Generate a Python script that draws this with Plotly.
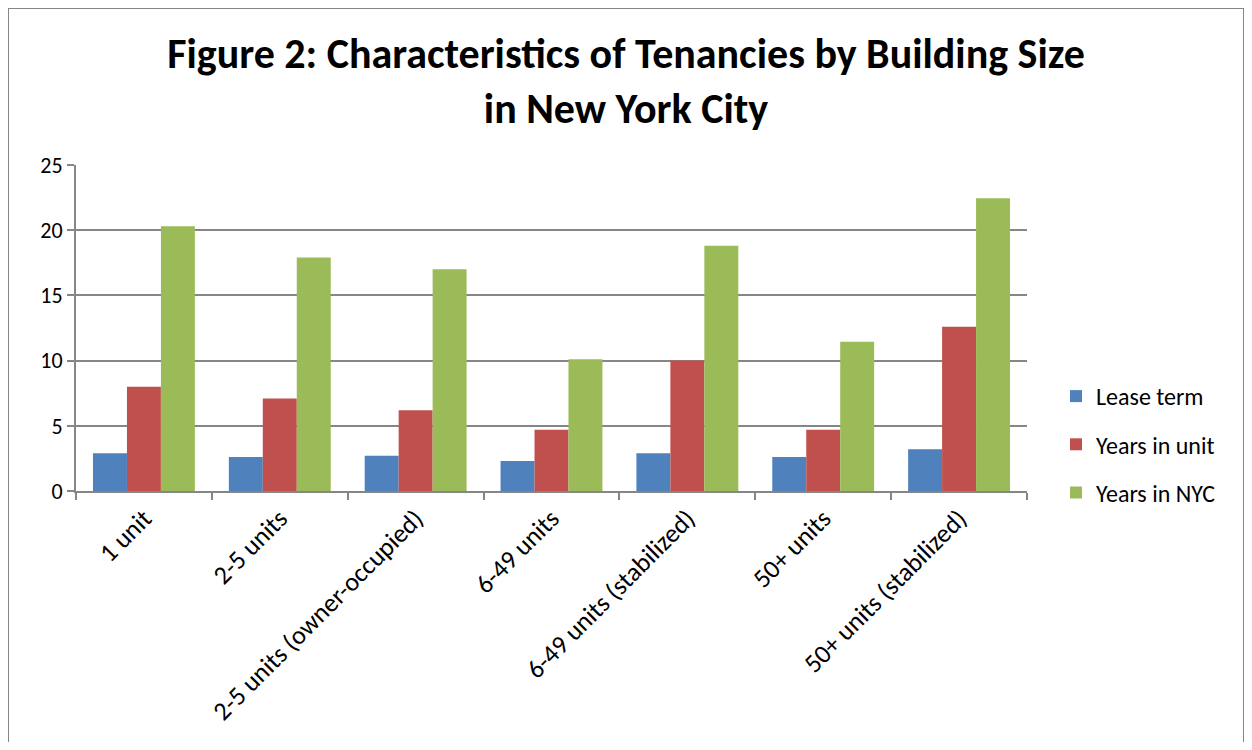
import plotly.graph_objects as go

categories = ["1 unit", "2-5 units", "2-5 units (owner-occupied)", "6-49 units",
              "6-49 units (stabilized)", "50+ units", "50+ units (stabilized)"]
lease_term = [2.9, 2.6, 2.7, 2.3, 2.9, 2.6, 3.2]
years_in_unit = [8.0, 7.1, 6.2, 4.7, 10.0, 4.7, 12.6]
years_in_nyc = [20.3, 17.9, 17.0, 10.1, 18.8, 11.45, 22.45]

series = [("Lease term", lease_term, "#4F81BD"),
          ("Years in unit", years_in_unit, "#C0504D"),
          ("Years in NYC", years_in_nyc, "#9BBB59")]

FONT = "Carlito, Lato, 'Open Sans', sans-serif"

fig = go.Figure()
for i, (name, vals, col) in enumerate(series):
    fig.add_trace(go.Bar(x=categories, y=vals, name=name, marker_color=col,
                         marker_line_width=0, legendgroup=str(i)))

OFF = 8  # page body margin
W, H = 1252 - 2 * OFF, 750 - 2 * OFF
L, R, T, B = 76 - OFF, 1027 - OFF, 165 - OFF, 491 - OFF
pw, ph = R - L, B - T

def px(x):
    return (x - OFF - L) / pw

def py(y):
    return (B - (y - OFF)) / ph

fig.update_layout(
    width=W, height=H,
    margin=dict(l=L, r=W - R, t=T, b=H - B),
    paper_bgcolor="white", plot_bgcolor="white",
    barmode="group", bargap=0.25, bargroupgap=0,
    font=dict(family=FONT, size=20, color="black"),
    title=dict(text="<b>Figure 2: Characteristics of Tenancies by Building Size<br>in New York City</b>",
               x=0.5, xref="container", xanchor="center",
               y=1 - (68 - OFF) / H, yanchor="middle",
               font=dict(family=FONT, size=42, color="black")),
    legend=dict(x=px(1056), y=py(374), xanchor="left", yanchor="top",
                font=dict(family=FONT, size=24), tracegroupgap=14,
                bgcolor="rgba(0,0,0,0)"),
    showlegend=True,
    xaxis=dict(type="category", tickangle=-45, showline=True, linecolor="#868686",
               linewidth=2, ticks="outside", tickson="boundaries", ticklen=7,
               tickcolor="#868686", tickwidth=2, showgrid=False,
               tickfont=dict(family=FONT, size=26)),
    yaxis=dict(range=[0, 25], dtick=5, showline=True, linecolor="#868686",
               linewidth=2, ticks="outside", ticklen=7, tickcolor="#868686",
               tickwidth=2, showgrid=True, gridcolor="#868686", gridwidth=2,
               zeroline=False, tickfont=dict(family=FONT, size=22)),
    shapes=[dict(type="rect", xref="paper", yref="paper",
                 x0=px(8), x1=px(1244), y0=py(800), y1=py(8),
                 line=dict(color="#868686", width=2), layer="below")],
)

fig.write_html("out.html")
